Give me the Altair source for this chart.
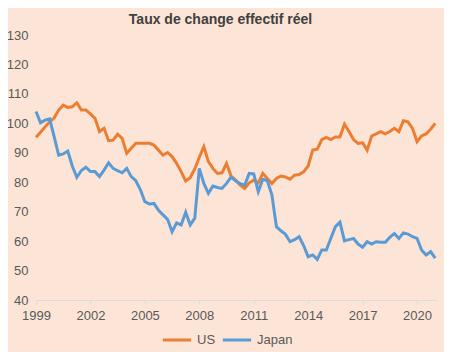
import altair as alt
import pandas as pd

# Quarterly observations, 1999Q1 .. 2021Q1
years = [1999 + 0.25 * i for i in range(89)]

us = [
    95.3, 97.0, 98.8, 100.5,      # 1999
    101.8, 104.5, 106.2, 105.4,   # 2000
    105.6, 107.0, 104.5, 104.5,   # 2001
    103.2, 101.7, 97.2, 98.3,     # 2002
    94.1, 94.3, 96.3, 94.9,       # 2003
    89.8, 91.5, 93.2, 93.2,       # 2004
    93.2, 93.2, 92.6, 90.9,       # 2005
    89.2, 90.1, 88.7, 86.4,       # 2006
    83.6, 80.4, 81.5, 84.5,       # 2007
    88.5, 92.1, 87.0, 84.7,       # 2008
    83.0, 83.2, 86.4, 82.1,       # 2009
    80.7, 79.0, 77.9, 79.8,       # 2010
    80.7, 79.8, 83.0, 81.3,       # 2011
    79.6, 81.3, 82.1, 81.8,       # 2012
    81.0, 82.4, 82.6, 83.5,       # 2013
    85.5, 90.9, 91.2, 94.5,       # 2014
    95.2, 94.5, 95.4, 95.4,       # 2015
    99.7, 97.2, 94.5, 93.2,       # 2016
    93.4, 90.9, 95.7, 96.4,       # 2017
    97.2, 96.4, 97.2, 98.3,       # 2018
    97.2, 100.9, 100.5, 98.3,     # 2019
    93.8, 95.7, 96.4, 98.0,       # 2020
    100.0,                        # 2021
]

japan = [
    104.0, 100.2, 101.1, 101.5,   # 1999
    95.5, 89.2, 89.6, 90.6,       # 2000
    85.5, 81.7, 84.0, 85.1,       # 2001
    83.6, 83.6, 81.9, 84.1,       # 2002
    86.6, 84.7, 83.9, 83.2,       # 2003
    84.7, 81.9, 80.5, 77.5,       # 2004
    73.4, 72.6, 72.8, 70.5,       # 2005
    68.9, 67.4, 63.2, 66.2,       # 2006
    65.5, 69.8, 65.5, 67.8,       # 2007
    84.7, 79.6, 76.2, 78.7,       # 2008
    78.2, 77.9, 79.6, 81.7,       # 2009
    80.5, 79.5, 79.0, 83.0,       # 2010
    82.8, 76.8, 81.0, 80.5,       # 2011
    75.7, 64.9, 63.5, 62.3,       # 2012
    59.8, 60.5, 61.5, 58.5,       # 2013
    54.7, 55.3, 53.8, 57.0,       # 2014
    57.0, 61.0, 64.9, 66.4,       # 2015
    60.1, 60.5, 60.9, 59.0,       # 2016
    57.9, 59.8, 59.0, 59.8,       # 2017
    59.6, 59.6, 61.3, 62.6,       # 2018
    60.9, 62.8, 62.4, 61.5,       # 2019
    60.9, 57.0, 55.3, 56.4,       # 2020
    54.2,                         # 2021
]

series_names = ["US", "Japan"]
series_colors = ["#ED7D31", "#5B9BD5"]
x_ticks = [1999, 2002, 2005, 2008, 2011, 2014, 2017, 2020]
y_ticks = [40, 50, 60, 70, 80, 90, 100, 110, 120, 130]

df = pd.concat([
    pd.DataFrame({"t": years, "v": us, "s": "US", "o": 0}),
    pd.DataFrame({"t": years, "v": japan, "s": "Japan", "o": 1}),
])

bg = "#FCE5D6"
txt = "#595959"
font = "Liberation Sans"

chart = alt.Chart(df).mark_line(strokeWidth=3).encode(
    x=alt.X("t:Q",
            scale=alt.Scale(domain=[1999, 2021.1], nice=False, zero=False),
            axis=alt.Axis(values=x_ticks, format="d", title=None, grid=False,
                          domainColor="#D5DCE4", tickColor="#D5DCE4", tickSize=4,
                          labelPadding=5, labelColor=txt, labelFontSize=13,
                          labelFont=font, labelFlush=False)),
    y=alt.Y("v:Q",
            scale=alt.Scale(domain=[40, 130], nice=False, zero=False),
            axis=alt.Axis(values=y_ticks, title=None, grid=False, domain=False,
                          ticks=False, labelPadding=8, labelColor=txt,
                          labelFontSize=13, labelFont=font)),
    color=alt.Color("s:N",
                    scale=alt.Scale(domain=series_names, range=series_colors),
                    legend=alt.Legend(title=None, orient="none", direction="horizontal",
                                      legendX=125, legendY=289,
                                      symbolType="stroke", symbolSize=800,
                                      symbolStrokeWidth=3, labelFontSize=13,
                                      labelColor=txt, labelFont=font,
                                      columnPadding=0, labelOffset=4)),
    detail="s:N",
    order="o:Q",
).properties(
    width=401,
    height=265,
    title=alt.Title("Taux de change effectif réel", fontSize=14, fontWeight="bold",
                    color="#404040", font=font, anchor="middle", dx=-16, offset=2),
    background=bg,
    padding={"left": 28, "top": 27, "right": 7, "bottom": 52},
    autosize=alt.AutoSizeParams(type="none"),
).configure_view(stroke=None)

chart.save("out.html", embed_options={"renderer": "svg", "actions": False})
